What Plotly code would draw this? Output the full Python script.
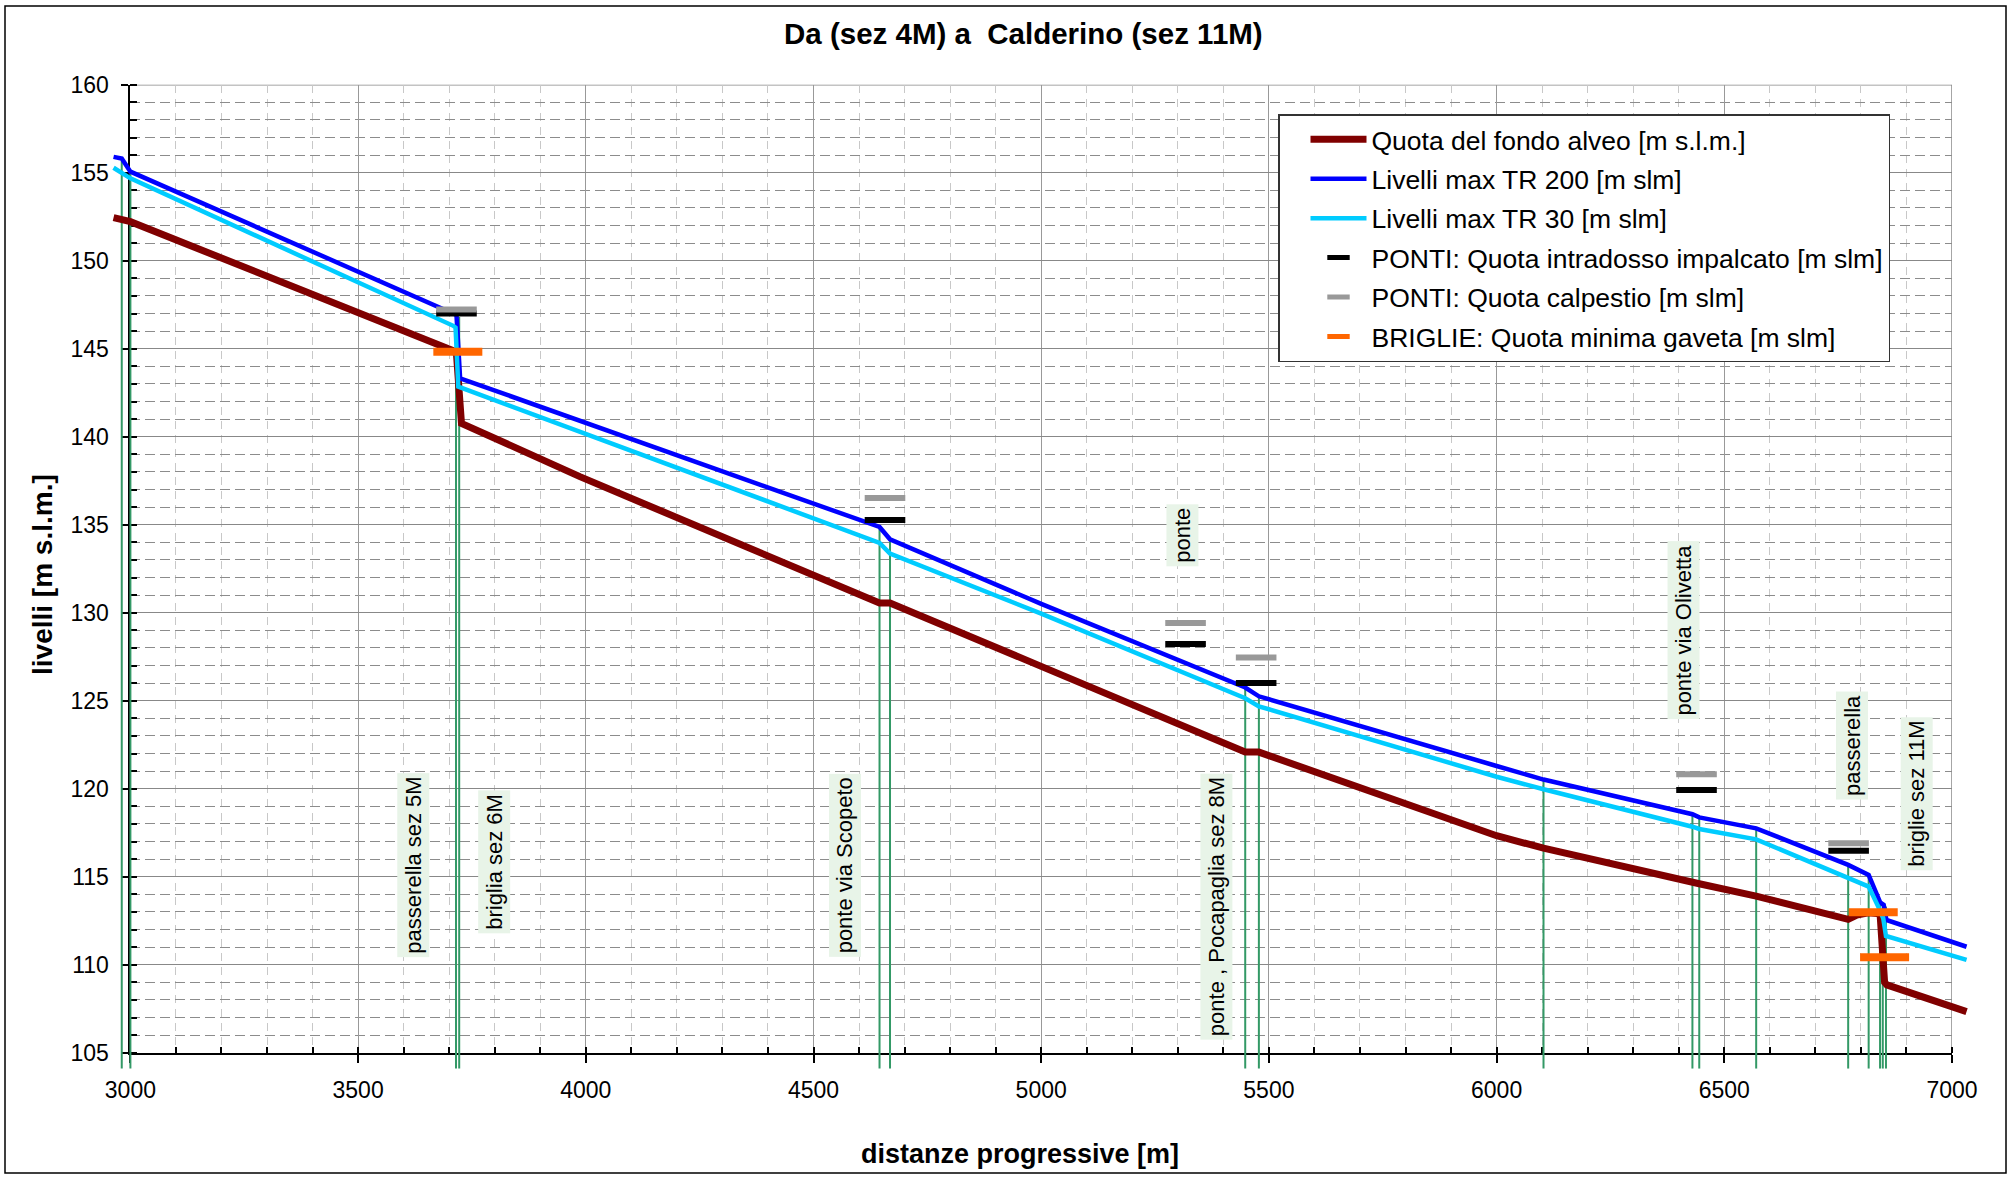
import plotly.graph_objects as go

# ---------------- data ----------------
dist_fondo = [2963, 2981, 3000, 3708, 3716, 3727, 3987, 4645, 4668, 5000, 5448, 5478,
              6000, 6103, 6430, 6445, 6570, 6772, 6791, 6816, 6842, 6852, 6857, 7032]
quota_fondo = [152.45, 152.35, 152.22, 144.9, 144.7, 140.76, 137.73, 130.55, 130.55, 126.95,
               122.08, 122.08, 117.33, 116.62, 114.63, 114.6, 113.9, 112.58, 112.82, 112.95,
               112.9, 109.0, 108.85, 107.33]

dist_tr200 = [2963, 2981, 3000, 3709, 3716, 3724, 4645, 4668, 5000, 5448, 5478, 6000,
              6103, 6430, 6445, 6570, 6772, 6817, 6842, 6850, 6856, 7032]
liv_tr200 = [155.9, 155.8, 155.06, 147.0, 146.92, 143.32, 134.87, 134.17, 130.5, 125.75,
             125.25, 121.29, 120.52, 118.55, 118.37, 117.75, 115.67, 115.1, 113.55, 113.4,
             112.54, 111.02]

dist_tr30 = [2963, 2981, 3000, 3709, 3714, 3720, 4645, 4668, 5000, 5448, 5478, 6000,
             6103, 6430, 6445, 6570, 6772, 6817, 6838, 6849, 6855, 7032]
liv_tr30 = [155.28, 155.0, 154.68, 146.3, 146.2, 142.84, 133.97, 133.36, 129.95, 125.14,
            124.68, 120.68, 119.97, 117.84, 117.71, 117.12, 114.91, 114.44, 113.3, 112.64,
            111.63, 110.27]

ponti_x = [3716, 4657, 5317, 5472, 6439, 6773]
ponti_intradosso = [147.0, 135.27, 128.22, 126.0, 119.93, 116.48]
ponti_calpestio = [147.23, 136.51, 129.42, 127.45, 120.82, 116.9]

briglie_x = [3719, 6827, 6852]
briglie_gaveta = [144.82, 112.98, 110.42]

sezioni_x = [2981, 3000, 3715, 3722, 4645, 4668, 5448, 5478, 6103, 6430, 6445, 6570,
             6772, 6817, 6842, 6848, 6855]
sezioni_top = [155.8, 155.06, 146.95, 146.8, 134.87, 134.17, 125.75, 125.25, 120.52, 118.55,
               118.37, 117.75, 115.67, 115.1, 113.6, 113.5, 113.3]
sezioni_base = 104.1

label_text = ["passerella sez 5M", "briglia sez 6M", "ponte via Scopeto",
              "ponte , Pocapaglia sez 8M", "ponte", "ponte via Olivetta",
              "passerella", "briglie sez 11M"]
label_x = [3621, 3799, 4569, 5385, 5310, 6410, 6781, 6922]
label_y = [115.64, 115.86, 115.64, 113.3, 134.39, 129.0, 122.44, 119.74]

x_tick_vals = [3000, 3500, 4000, 4500, 5000, 5500, 6000, 6500, 7000]
y_tick_vals = [105, 110, 115, 120, 125, 130, 135, 140, 145, 150, 155, 160]

series_names = ["Quota del fondo alveo [m s.l.m.]", "Livelli max TR 200 [m slm]",
                "Livelli max TR 30 [m slm]", "PONTI: Quota intradosso impalcato [m slm]",
                "PONTI: Quota calpestio [m slm]", "BRIGLIE: Quota minima gaveta [m slm]"]

# ---------------- geometry ----------------
W, H = 2015, 1178
paper_l, paper_r, paper_t, paper_b = 90, 1995, 60, 1098
plot_l, plot_r, plot_t, plot_b = 130.4, 1952.0, 84.7, 1052.7
xmin, xmax, ymin, ymax = 3000, 7000, 105, 160
pw, ph = paper_r - paper_l, paper_b - paper_t
sx = (plot_r - plot_l) / (xmax - xmin)
sy = (plot_b - plot_t) / (ymax - ymin)


def xp(px):
    return (px - paper_l) / pw


def yp(py):
    return (paper_b - py) / ph


x2range = [xmin - (plot_l - paper_l) / sx, xmax + (paper_r - plot_r) / sx]
y2range = [ymin - (paper_b - plot_b) / sy, ymax + (plot_t - paper_t) / sy]

FONT = "Liberation Sans, Arial, sans-serif"

fig = go.Figure()

# vertical section lines
gx, gy = [], []
for xv, tv in zip(sezioni_x, sezioni_top):
    gx += [xv, xv, None]
    gy += [sezioni_base, tv, None]
fig.add_trace(go.Scatter(x=gx, y=gy, mode="lines", line=dict(color="#339966", width=2),
                         showlegend=False, hoverinfo="skip", xaxis="x2", yaxis="y2"))

fig.add_trace(go.Scatter(x=dist_fondo, y=quota_fondo, mode="lines", name=series_names[0],
                         line=dict(color="#800000", width=7), legendgroup="g1",
                         xaxis="x2", yaxis="y2"))
fig.add_trace(go.Scatter(x=dist_tr200, y=liv_tr200, mode="lines", name=series_names[1],
                         line=dict(color="#0000ff", width=4.5), legendgroup="g2",
                         xaxis="x2", yaxis="y2"))
fig.add_trace(go.Scatter(x=dist_tr30, y=liv_tr30, mode="lines", name=series_names[2],
                         line=dict(color="#00ccff", width=4.5), legendgroup="g3",
                         xaxis="x2", yaxis="y2"))
fig.add_trace(go.Scatter(x=ponti_x, y=ponti_intradosso, mode="markers", name=series_names[3],
                         marker=dict(symbol="line-ew", size=29,
                                     line=dict(color="#000000", width=6)),
                         legendgroup="g4", xaxis="x2", yaxis="y2"))
fig.add_trace(go.Scatter(x=ponti_x, y=ponti_calpestio, mode="markers", name=series_names[4],
                         marker=dict(symbol="line-ew", size=29,
                                     line=dict(color="#999999", width=6)),
                         legendgroup="g5", xaxis="x2", yaxis="y2"))
fig.add_trace(go.Scatter(x=briglie_x, y=briglie_gaveta, mode="markers", name=series_names[5],
                         marker=dict(symbol="line-ew", size=35,
                                     line=dict(color="#ff6600", width=8)),
                         legendgroup="g6", xaxis="x2", yaxis="y2"))

annotations = []
for t, lx, ly in zip(label_text, label_x, label_y):
    annotations.append(dict(x=lx, y=ly, xref="x", yref="y", text=t, textangle=-90,
                            showarrow=False, bgcolor="#e8f4e8", borderpad=3,
                            font=dict(family=FONT, size=22, color="black"),
                            xanchor="center", yanchor="middle"))

annotations.append(dict(x=xp(1023), y=yp(33), xref="paper", yref="paper",
                        text="<b>Da (sez 4M) a \u00a0Calderino (sez 11M)</b>", showarrow=False,
                        font=dict(family=FONT, size=29.5, color="black"),
                        xanchor="center", yanchor="middle"))
annotations.append(dict(x=xp(1020), y=yp(1154), xref="paper", yref="paper",
                        text="<b>distanze progressive [m]</b>", showarrow=False,
                        font=dict(family=FONT, size=27, color="black"),
                        xanchor="center", yanchor="middle"))
annotations.append(dict(x=xp(42), y=yp(575), xref="paper", yref="paper",
                        text="<b>livelli [m s.l.m.]</b>", showarrow=False, textangle=-90,
                        font=dict(family=FONT, size=28, color="black"),
                        xanchor="center", yanchor="middle"))

shapes = [
    dict(type="rect", xref="paper", yref="paper", x0=xp(5), x1=xp(2006), y0=yp(1173), y1=yp(6),
         line=dict(color="black", width=1.5), layer="below"),
    dict(type="line", xref="x", yref="y", x0=xmin, x1=xmax, y0=ymax, y1=ymax,
         line=dict(color="#888888", width=1.5), layer="below"),
    dict(type="line", xref="x", yref="y", x0=xmax, x1=xmax, y0=ymin, y1=ymax,
         line=dict(color="#888888", width=1.5), layer="below"),
]

tickfont = dict(family=FONT, size=23, color="black")

fig.update_layout(
    width=W, height=H, autosize=False,
    margin=dict(l=paper_l, r=W - paper_r, t=paper_t, b=H - paper_b, pad=0, autoexpand=False),
    paper_bgcolor="white", plot_bgcolor="rgba(0,0,0,0)",
    font=dict(family=FONT, color="black"),
    showlegend=True,
    legend=dict(x=xp(1278), y=yp(114), xanchor="left", yanchor="top",
                bgcolor="white", bordercolor="#333333", borderwidth=1.5,
                font=dict(family=FONT, size=26.5, color="black"),
                traceorder="grouped", tracegroupgap=2, itemwidth=56, indentation=26,
                itemsizing="trace"),
    xaxis=dict(domain=[xp(plot_l), xp(plot_r)], range=[xmin, xmax], anchor="y",
               automargin=False,
               tickmode="array", tickvals=x_tick_vals, ticktext=[str(v) for v in x_tick_vals],
               tickfont=tickfont, ticks="outside", ticklen=8, tickwidth=1.5, tickcolor="black",
               ticklabelstandoff=8,
               showline=True, linecolor="black", linewidth=2,
               showgrid=True, gridcolor="#999999", gridwidth=1.2, zeroline=False,
               minor=dict(dtick=100, tick0=3000, showgrid=True, gridcolor="#c8c8c8",
                          griddash="8px,6px", gridwidth=1.2, ticks="inside", ticklen=6,
                          tickcolor="black", tickwidth=1.5)),
    yaxis=dict(domain=[yp(plot_b), yp(plot_t)], range=[ymin, ymax], anchor="x",
               automargin=False,
               tickmode="array", tickvals=y_tick_vals, ticktext=[str(v) for v in y_tick_vals],
               tickfont=tickfont, ticks="outside", ticklen=7, tickwidth=1.5, tickcolor="black",
               ticklabelstandoff=8,
               showline=True, linecolor="black", linewidth=2,
               showgrid=True, gridcolor="#888888", gridwidth=1.2, zeroline=False,
               minor=dict(dtick=1, tick0=105, showgrid=True, gridcolor="#8c8c8c",
                          griddash="10px,5px", gridwidth=1.2, ticks="inside", ticklen=7,
                          tickcolor="black", tickwidth=1.5)),
    xaxis2=dict(domain=[0, 1], range=x2range, anchor="y2", visible=False, automargin=False),
    yaxis2=dict(domain=[0, 1], range=y2range, anchor="x2", visible=False, automargin=False),
    annotations=annotations,
    shapes=shapes,
)

fig.write_html("out.html", config={"responsive": False})
